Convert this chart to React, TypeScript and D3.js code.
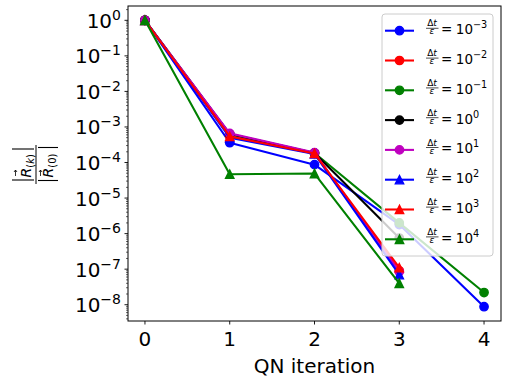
import * as d3 from 'd3';

// QN iteration index and residual ratios, one array per dt/eps value
const iterations = [0, 1, 2, 3, 4];
const resDtEm3 = [1, 3.6e-4, 8.7e-5, 1.8e-6, 8.8e-9];
const resDtEm2 = [1, 5.5e-4, 1.8e-4, 9e-8];
const resDtEm1 = [1, 6.3e-4, 1.85e-4, 2.0e-6, 2.2e-8];
const resDtE0 = [1, 6.3e-4, 1.85e-4, 7.5e-7];
const resDtE1 = [1, 6.6e-4, 1.9e-4, 8.5e-8];
const resDtE2 = [1, 5.0e-4, 1.75e-4, 7e-8];
const resDtE3 = [1, 5.4e-4, 1.8e-4, 1.1e-7];
const resDtE4 = [1, 4.7e-5, 4.9e-5, 4e-8];

const exponents = [-3, -2, -1, 0, 1, 2, 3, 4];
const xTicks = [0, 1, 2, 3, 4];
const yTickExps = [0, -1, -2, -3, -4, -5, -6, -7, -8];

const series = [
  { values: resDtEm3, color: '#0000ff', marker: 'o' },
  { values: resDtEm2, color: '#ff0000', marker: 'o' },
  { values: resDtEm1, color: '#008000', marker: 'o' },
  { values: resDtE0, color: '#000000', marker: 'o' },
  { values: resDtE1, color: '#bf00bf', marker: 'o' },
  { values: resDtE2, color: '#0000ff', marker: '^' },
  { values: resDtE3, color: '#ff0000', marker: '^' },
  { values: resDtE4, color: '#008000', marker: '^' },
];

const W = 510;
const H = 380;
const left = 128;
const right = 501;
const top = 6;
const bottom = 321;
const FONT = "'DejaVu Sans', sans-serif";

function Marker({ kind, cx, cy, color }) {
  if (kind === '^') {
    const s = 4.17;
    return (
      <path
        d={`M${cx},${cy - s}L${cx - s},${cy + s}L${cx + s},${cy + s}Z`}
        fill={color}
        stroke={color}
        strokeWidth={1.4}
        strokeLinejoin="miter"
      />
    );
  }
  return <circle cx={cx} cy={cy} r={4.17} fill={color} stroke={color} strokeWidth={1.4} />;
}

export default function App() {
  const allVals = series.flatMap(s => s.values);
  const lo = Math.log10(d3.min(allVals));
  const hi = Math.log10(d3.max(allVals));
  const pad = (hi - lo) * 0.05;

  const x = d3.scaleLinear().domain([-0.2, 4.2]).range([left, right]);
  const y = d3.scaleLog().domain([10 ** (lo - pad), 10 ** (hi + pad)]).range([bottom, top]);

  const line = d3.line<number>()
    .x((d, i) => x(iterations[i]))
    .y(d => y(d));

  // minor ticks for the log axis
  const minor = [];
  for (let k = -9; k <= 0; k++) {
    for (let m = 2; m <= 9; m++) {
      const v = m * 10 ** k;
      if (v >= y.domain()[0] && v <= y.domain()[1]) minor.push(v);
    }
  }

  const legX = 382;
  const legY = 14;
  const legW = 111;
  const legH = 242;
  const rowY = i => 30.7 + i * 29.8;

  return (
    <svg width={W} height={H} style={{ position: 'absolute', left: 0, top: 0, background: '#fff' }}>
      <rect width={W} height={H} fill="#fff" />

      <g>
        {series.map((s, si) => (
          <g key={si}>
            <path d={line(s.values)} fill="none" stroke={s.color} strokeWidth={2.08} strokeLinejoin="round" />
            {s.values.map((v, i) => (
              <Marker key={i} kind={s.marker} cx={x(iterations[i])} cy={y(v)} color={s.color} />
            ))}
          </g>
        ))}
      </g>

      {/* spines */}
      <rect x={left} y={top} width={right - left} height={bottom - top} fill="none" stroke="#000" strokeWidth={1} />

      {/* x ticks */}
      {xTicks.map(t => (
        <g key={t}>
          <line x1={x(t)} x2={x(t)} y1={bottom} y2={bottom + 3.5} stroke="#000" strokeWidth={0.9} />
          <text x={x(t)} y={346} textAnchor="middle" fontFamily={FONT} fontSize={20}>{t}</text>
        </g>
      ))}
      <text x={(left + right) / 2} y={373} textAnchor="middle" fontFamily={FONT} fontSize={20}>QN iteration</text>

      {/* y ticks */}
      {minor.map((v, i) => (
        <line key={i} x1={left - 2} x2={left} y1={y(v)} y2={y(v)} stroke="#000" strokeWidth={0.6} />
      ))}
      {yTickExps.map(e => (
        <g key={e}>
          <line x1={left - 3.5} x2={left} y1={y(10 ** e)} y2={y(10 ** e)} stroke="#000" strokeWidth={0.9} />
          <text x={121} y={y(10 ** e) + 7.5} textAnchor="end" fontFamily={FONT} fontSize={20}>
            10<tspan dy={-8} fontSize={14}>{e < 0 ? `\u2212${-e}` : e}</tspan>
          </text>
        </g>
      ))}

      {/* y label: |R(k)| / |R(0)| */}
      <g transform="translate(36,165) rotate(-90)" fontFamily={FONT}>
        <line x1={-19} x2={20} y1={0} y2={0} stroke="#000" strokeWidth={1} />
        <line x1={-15} x2={-15} y1={-24} y2={-2} stroke="#000" strokeWidth={1.1} />
        <line x1={16} x2={16} y1={-24} y2={-2} stroke="#000" strokeWidth={1.1} />
        <text x={-12.5} y={-5} fontSize={14}>
          <tspan fontStyle="italic">R</tspan>
          <tspan dy={2.5} fontSize={10}>(<tspan fontStyle="italic">k</tspan>)</tspan>
        </text>
        <path d="M-11,-20.5L-5,-20.5M-7,-22L-5,-20.5L-7,-19" fill="none" stroke="#000" strokeWidth={0.8} />
        <line x1={-15.5} x2={-15.5} y1={2} y2={22} stroke="#000" strokeWidth={1.1} />
        <line x1={17.5} x2={17.5} y1={2} y2={22} stroke="#000" strokeWidth={1.1} />
        <text x={-12.5} y={17} fontSize={14}>
          <tspan fontStyle="italic">R</tspan>
          <tspan dy={2.5} fontSize={10}>(0)</tspan>
        </text>
        <path d="M-11,4.5L-5,4.5M-7,3L-5,4.5L-7,6" fill="none" stroke="#000" strokeWidth={0.8} />
      </g>

      {/* legend */}
      <rect x={legX} y={legY} width={legW} height={legH} rx={3} fill="rgba(255,255,255,0.8)" stroke="#cccccc" strokeWidth={1} />
      {series.map((s, i) => {
        const ry = rowY(i);
        const e = exponents[i];
        return (
          <g key={i} fontFamily={FONT}>
            <line x1={385} x2={414} y1={ry} y2={ry} stroke={s.color} strokeWidth={2.08} />
            <Marker kind={s.marker} cx={399.5} cy={ry} color={s.color} />
            <text x={432} y={ry - 4.3} textAnchor="middle" fontSize={9}>
              {'\u0394'}<tspan fontStyle="italic">t</tspan>
            </text>
            <line x1={426} x2={438.5} y1={ry - 2.4} y2={ry - 2.4} stroke="#000" strokeWidth={0.7} />
            <text x={432} y={ry + 3.6} textAnchor="middle" fontSize={9} fontStyle="italic">{'\u03b5'}</text>
            <text x={441} y={ry + 3.4} fontSize={13.5}>
              =<tspan dx={3.5}>10</tspan>
              <tspan dy={-6} fontSize={9.7}>{e < 0 ? `\u2212${-e}` : e}</tspan>
            </text>
          </g>
        );
      })}
    </svg>
  );
}
